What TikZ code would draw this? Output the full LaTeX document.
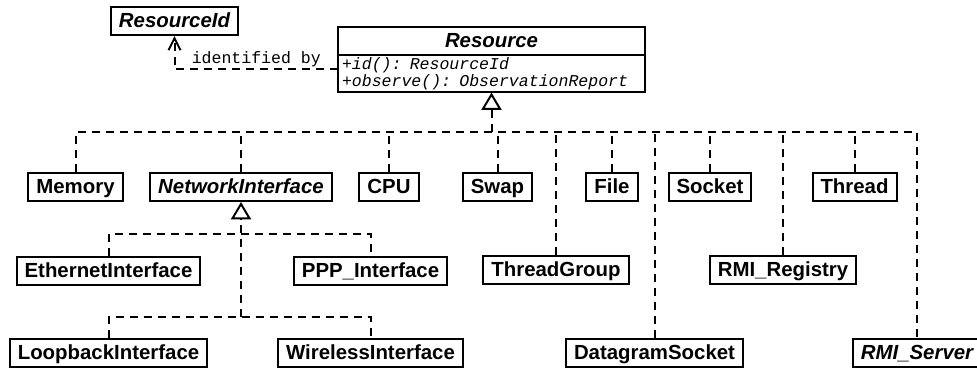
\documentclass[tikz,border=0pt]{standalone}
\usepackage{fontspec}
\setmainfont{Liberation Sans}
\newfontfamily\umlmono{Liberation Mono}
\usetikzlibrary{arrows.meta}

\tikzset{
  cls/.style={draw, line width=1.5pt, anchor=north, inner xsep=6pt, inner ysep=4.5pt,
    text height=10.5pt, text depth=1.5pt, font=\fontsize{15.3}{18}\selectfont\bfseries},
  abscls/.style={cls, font=\fontsize{15.3}{18}\selectfont\bfseries\itshape},
  dep/.style={line width=1.5pt, dash pattern=on 6pt off 4.5pt},
  inh/.style={dep, -{Triangle[open,length=13pt,width=15pt,line width=1.5pt]}},
  uses/.style={dep, -{Straight Barb[length=9pt,width=9pt,line width=1.5pt]}}
}

\begin{document}
\begin{tikzpicture}[x=0.75pt,y=0.75pt,yscale=-1,xscale=1]
\useasboundingbox (0,0) rectangle (977,369);

% Resource class with its two operations
\node[abscls, minimum width=230.25pt, outer sep=0pt] (res) at (491.5,27) {Resource};
\node[draw, line width=1.5pt, anchor=north, align=left, text width=224.25pt, inner xsep=3pt, inner ysep=2pt,
  outer sep=0pt, font=\umlmono\itshape\fontsize{12.4}{11.25}\selectfont] (ops) at (res.south)
  {+id(): ResourceId\\+observe(): ObservationReport};

\node[abscls] (rid) at (174.5,6) {ResourceId};

% first row
\node[cls] (mem) at (75.5,172) {Memory};
\node[abscls] (netif) at (241,172) {NetworkInterface};
\node[cls] (cpu) at (389,172) {CPU};
\node[cls] (swap) at (497.5,172) {Swap};
\node[cls] (file) at (612,172) {File};
\node[cls] (sock) at (710,172) {Socket};
\node[cls] (thr) at (854.5,172) {Thread};

% second and third row
\node[cls] (eth) at (108.5,256) {EthernetInterface};
\node[cls] (ppp) at (370.5,256) {PPP\_Interface};
\node[cls] (tgrp) at (556,255) {ThreadGroup};
\node[cls] (reg) at (783,255) {RMI\_Registry};
\node[cls] (loop) at (108.5,338) {LoopbackInterface};
\node[cls] (wifi) at (370.5,338) {WirelessInterface};
\node[cls] (dgram) at (654.5,338) {DatagramSocket};
\node[abscls] (rmisrv) at (917,338) {RMI\_Server};

% dependency
\draw[uses] ([yshift=-3.5pt]ops.west) -| node[pos=0.25, above, inner sep=1pt, font=\umlmono\fontsize{12.4}{14}\selectfont] {identified by} (rid.south);

% realisations of Resource
\coordinate (hub) at (491.5,132);
\draw[inh] (hub) -- (ops.south);
\draw[dep] (mem.north) |- (hub) -| (rmisrv.north);
\foreach \n in {netif,cpu,swap,file,sock,thr,tgrp,reg,dgram}
  \draw[dep] (\n.north) -- (\n.north |- hub);

% network interfaces
\coordinate (nhub1) at (241,234);
\coordinate (nhub2) at (241,317);
\draw[inh] (nhub2) -- (netif.south);
\draw[dep] (eth.north) |- (nhub1) -| (ppp.north);
\draw[dep] (loop.north) |- (nhub2) -| (wifi.north);

\end{tikzpicture}
\end{document}
